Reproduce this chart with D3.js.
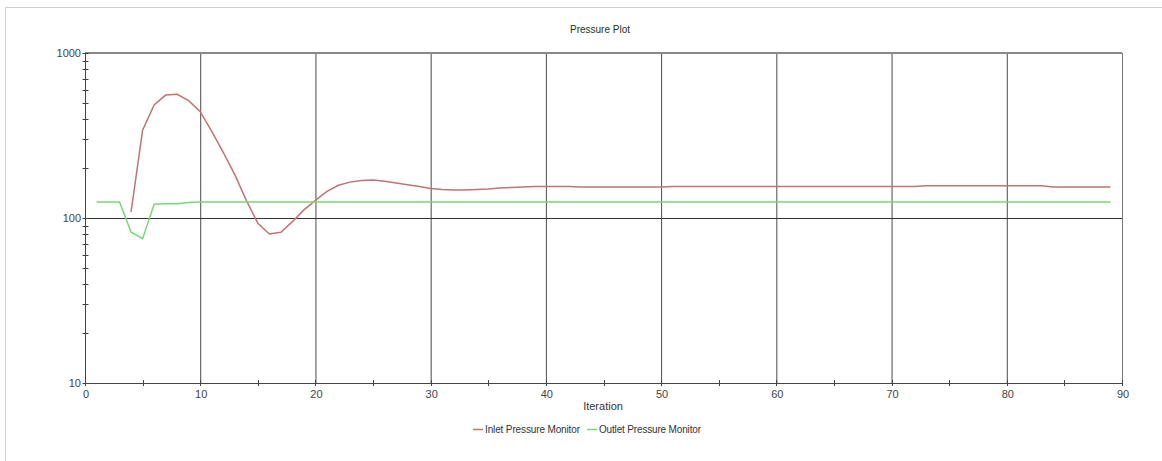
<!DOCTYPE html>
<html>
<head>
<meta charset="utf-8">
<script src="https://cdn.jsdelivr.net/npm/d3@7"></script>
<style>
  body { margin: 0; background: #fff; }
  text { font-family: "Liberation Sans", Arial, sans-serif; }
</style>
</head>
<body>
<div id="chart"></div>
<script>
// iterations and monitor values
var inletIter = d3.range(4, 90)
var inletValues = [109, 341, 484, 556, 562, 514, 441, 335, 250, 183, 128, 93, 80, 82, 95, 112,
  128, 145, 158, 165, 169, 170, 167, 163, 159, 155, 151, 149, 148, 148, 149, 150, 152, 153, 154, 155,
  155, 155, 155, 154, 154, 154, 154, 154, 154, 154, 154,
  155, 155, 155, 155, 155, 155, 155, 155, 155, 155, 155, 155, 155, 155, 155, 155, 155, 155, 155, 155, 155, 155,
  157, 157, 157, 157, 157, 157, 157, 157, 157, 157, 157,
  154, 154, 154, 154, 154, 154]
var outletIter = d3.range(1, 90)
var outletValues = [125, 125, 125, 82, 75, 121, 122, 122, 124].concat(d3.range(10, 90).map(() => 125))
var xTicks = [0, 10, 20, 30, 40, 50, 60, 70, 80, 90]
var yTicks = [10, 100, 1000]
var seriesNames = ['Inlet Pressure Monitor', 'Outlet Pressure Monitor']
var seriesColors = ['#c07474', '#78d878']

var W = 1162
var H = 461
var svg = d3.select('#chart').append('svg')
  .attr('width', W)
  .attr('height', H)

// outer frame
svg.append('rect')
  .attr('x', 5.5).attr('y', 7.5)
  .attr('width', W).attr('height', H)
  .attr('fill', 'none')
  .attr('stroke', '#d0d0d0')

var x = d3.scaleLinear().domain([0, 90]).range([85, 1122])
var y = d3.scaleLog().domain([10, 1000]).range([383, 53])

svg.append('text')
  .attr('x', 600).attr('y', 33)
  .attr('text-anchor', 'middle')
  .attr('font-size', 10)
  .attr('fill', '#223322')
  .text('Pressure Plot')

// vertical grid
svg.selectAll('.vgrid')
  .data(xTicks.slice(1, -1))
  .enter()
  .append('line')
  .attr('x1', (d) => { return x(d) + 0.5 })
  .attr('x2', (d) => { return x(d) + 0.5 })
  .attr('y1', y(1000))
  .attr('y2', y(10))
  .attr('stroke', '#4a4a4a')

// horizontal grid at 100
svg.append('line')
  .attr('x1', x(0)).attr('x2', x(90))
  .attr('y1', y(100) + 0.5).attr('y2', y(100) + 0.5)
  .attr('stroke', '#333')

// top and right frame
svg.append('line')
  .attr('x1', x(0)).attr('x2', x(90))
  .attr('y1', y(1000)).attr('y2', y(1000))
  .attr('stroke', '#888').attr('stroke-width', 2)
svg.append('line')
  .attr('x1', x(90) + 0.5).attr('x2', x(90) + 0.5)
  .attr('y1', y(1000)).attr('y2', y(10))
  .attr('stroke', '#777')

// y axis
var yMinor = []
;[10, 100].forEach((b) => { d3.range(2, 10).forEach((m) => { yMinor.push(b * m) }) })
svg.append('line')
  .attr('x1', x(0) + 0.5).attr('x2', x(0) + 0.5)
  .attr('y1', y(1000)).attr('y2', y(10))
  .attr('stroke', '#444')
svg.selectAll('.ymin')
  .data(yMinor.concat(yTicks))
  .enter()
  .append('line')
  .attr('x1', x(0) - 2.5).attr('x2', x(0) + 3.5)
  .attr('y1', (d) => { return Math.round(y(d)) + 0.5 })
  .attr('y2', (d) => { return Math.round(y(d)) + 0.5 })
  .attr('stroke', '#444')
svg.selectAll('.ylab')
  .data(yTicks)
  .enter()
  .append('text')
  .attr('x', x(0) - 4)
  .attr('y', (d) => { return y(d) + 4 })
  .attr('text-anchor', 'end')
  .attr('font-size', 11)
  .attr('fill', '#444')
  .text((d) => { return d })

// x axis
svg.append('line')
  .attr('x1', x(0)).attr('x2', x(90))
  .attr('y1', y(10) + 0.5).attr('y2', y(10) + 0.5)
  .attr('stroke', '#444')
svg.selectAll('.xtick')
  .data(d3.range(0, 95, 5))
  .enter()
  .append('line')
  .attr('x1', (d) => { return Math.round(x(d)) + 0.5 })
  .attr('x2', (d) => { return Math.round(x(d)) + 0.5 })
  .attr('y1', y(10) - 3).attr('y2', y(10) + 3)
  .attr('stroke', '#444')
svg.selectAll('.xlab')
  .data(xTicks)
  .enter()
  .append('text')
  .attr('x', (d) => { return x(d) + 1 })
  .attr('y', y(10) + 15)
  .attr('text-anchor', 'middle')
  .attr('font-size', 11)
  .attr('fill', '#444')
  .text((d) => { return d })
svg.append('text')
  .attr('x', 603).attr('y', 410)
  .attr('text-anchor', 'middle')
  .attr('font-size', 11)
  .attr('fill', '#333')
  .text('Iteration')

// series
var line = d3.line()
  .x((d) => { return x(d[0]) })
  .y((d) => { return y(d[1]) })
var series = [
  d3.zip(inletIter, inletValues),
  d3.zip(outletIter, outletValues)
]
svg.selectAll('.series')
  .data(series)
  .enter()
  .append('path')
  .attr('d', line)
  .attr('fill', 'none')
  .attr('stroke', (d, i) => { return seriesColors[i] })
  .attr('stroke-width', 1.5)

// legend
var legendX = [473, 587]
seriesNames.forEach((name, i) => {
  svg.append('line')
    .attr('x1', legendX[i]).attr('x2', legendX[i] + 10)
    .attr('y1', 429.5).attr('y2', 429.5)
    .attr('stroke', seriesColors[i]).attr('stroke-width', 1.5)
  svg.append('text')
    .attr('x', legendX[i] + 12).attr('y', 433)
    .attr('font-size', 10)
    .attr('textLength', i === 0 ? 95 : 102)
    .attr('fill', '#333')
    .text(name)
})
</script>
</body>
</html>
